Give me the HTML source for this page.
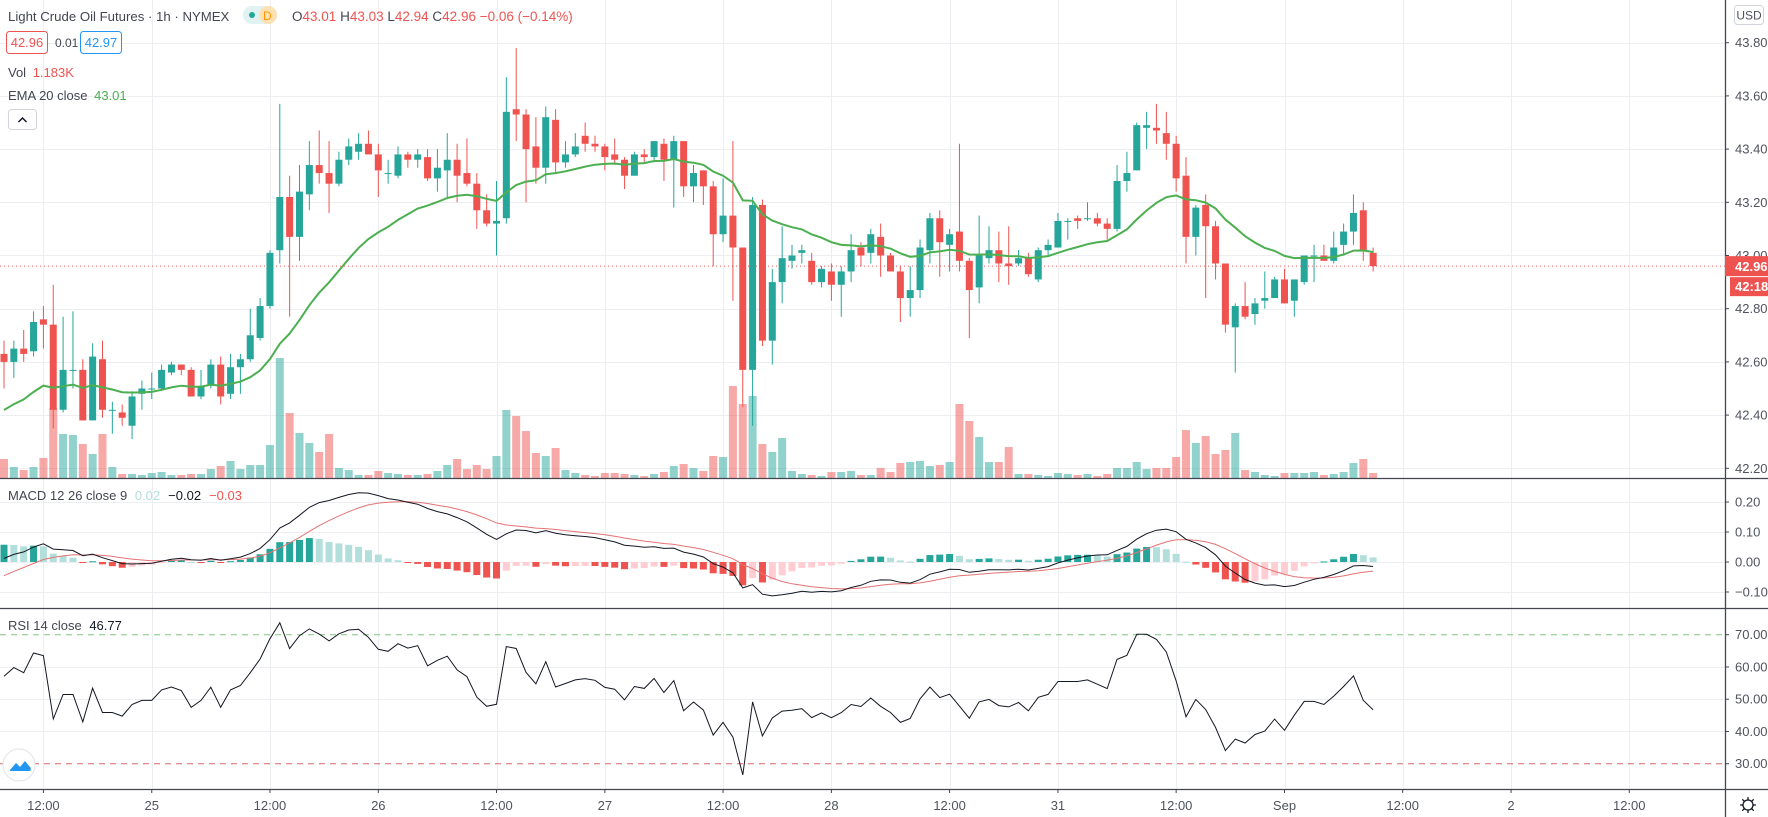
<!DOCTYPE html>
<html><head><meta charset="utf-8"><style>
html,body{margin:0;padding:0;background:#fff;}
svg{display:block;font-family:"Liberation Sans",sans-serif;}
</style></head><body>
<svg id="chart" width="1768" height="817" viewBox="0 0 1768 817" xmlns="http://www.w3.org/2000/svg">
<g id="grid"></g>
<g id="vol"></g>
<g id="candles"></g>
<g id="ema"></g>
<g id="macd"></g>
<g id="rsi"></g>
<g id="axes"></g>

<g font-size="14">
<text x="8" y="21" font-size="13.2" fill="#434651">Light Crude Oil Futures · 1h · NYMEX</text>
<rect x="243" y="6" width="34" height="18" rx="9" fill="#e0f2f1"/>
<rect x="259" y="6" width="18" height="18" rx="9" fill="#ffe0b2"/>
<circle cx="252" cy="15" r="3" fill="#26a69a"/>
<text x="263" y="20" font-size="12" fill="#ff9800">D</text>
<text x="292" y="21" font-size="13.5" fill="#434651">O<tspan fill="#ef5350">43.01</tspan> H<tspan fill="#ef5350">43.03</tspan> L<tspan fill="#ef5350">42.94</tspan> C<tspan fill="#ef5350">42.96</tspan> <tspan fill="#ef5350">−0.06 (−0.14%)</tspan></text>
<rect x="6.5" y="31.5" width="41" height="22" rx="3" fill="#fff" stroke="#ef5350"/>
<text x="27" y="47" font-size="13" text-anchor="middle" fill="#ef5350">42.96</text>
<text x="55" y="47" font-size="12" fill="#434651">0.01</text>
<rect x="80.5" y="31.5" width="41" height="22" rx="3" fill="#fff" stroke="#2196f3"/>
<text x="101" y="47" font-size="13" text-anchor="middle" fill="#2196f3">42.97</text>
<text x="8" y="77" font-size="13" fill="#434651">Vol <tspan fill="#ef5350" dx="3">1.183K</tspan></text>
<text x="8" y="100" font-size="13" fill="#434651">EMA 20 close <tspan fill="#4caf50" dx="3">43.01</tspan></text>
<rect x="8.5" y="109.5" width="28" height="20" rx="3" fill="#fff" stroke="#d1d4dc"/>
<path d="M18.5 122 L22.5 118 L26.5 122" fill="none" stroke="#131722" stroke-width="1.5"/>
<text x="8" y="500" font-size="13" fill="#434651">MACD 12 26 close 9 <tspan fill="#b2dfdb" dx="4">0.02</tspan><tspan fill="#131722" dx="8">−0.02</tspan><tspan fill="#ef5350" dx="8">−0.03</tspan></text>
<text x="8" y="630" font-size="13" fill="#434651">RSI 14 close <tspan fill="#131722" dx="4">46.77</tspan></text>
<circle cx="19" cy="765" r="16" fill="#fff" stroke="#e0e3eb"/>
<path d="M10 770 L16 763 L20 767 L25 761 L29 766 Q32 768 30 771 L10 771 Z" fill="#2196f3"/>
</g>

<g>
<rect x="1734.5" y="5.5" width="29" height="19" rx="3" fill="#fff" stroke="#d1d4dc"/>
<text x="1749" y="19.5" font-size="12" text-anchor="middle" fill="#50535e">USD</text>
<g transform="translate(1748,805)" fill="none" stroke="#131722" stroke-width="1.3">
<circle r="5"/><path d="M0 -8V-5M0 5V8M-8 0H-5M5 0H8M-5.7 -5.7L-3.5 -3.5M3.5 3.5L5.7 5.7M-5.7 5.7L-3.5 3.5M3.5 -3.5L5.7 -5.7"/>
</g>
</g>
</svg>
<script>
const opens=[42.63,42.60,42.65,42.64,42.76,42.74,42.42,42.57,42.57,42.38,42.61,42.42,42.41,42.36,42.48,42.50,42.50,42.56,42.59,42.57,42.47,42.51,42.59,42.48,42.58,42.61,42.69,42.81,43.02,43.22,43.07,43.23,43.34,43.31,43.27,
43.36,43.39,43.42,43.38,43.31,43.30,43.38,43.36,43.37,43.29,43.32,43.36,43.31,43.27,43.17,43.12,43.14,43.55,43.53,43.41,43.33,43.51,43.35,43.38,43.45,43.42,43.41,43.38,43.36,43.30,43.38,43.37,43.42,43.36,43.43,
43.26,43.32,43.26,43.08,43.15,43.03,42.57,43.19,42.68,42.90,42.98,43.01,42.98,42.90,42.94,42.89,42.94,43.03,43.01,43.07,43.00,42.94,42.84,42.87,43.02,43.14,43.04,43.09,42.98,42.88,42.99,43.02,42.97,42.97,42.99,
42.91,43.02,43.03,43.13,43.14,43.14,43.14,43.12,43.10,43.28,43.32,43.48,43.48,43.46,43.42,43.30,43.07,43.19,43.11,42.97,42.73,42.81,42.78,42.83,42.84,42.91,42.83,42.90,43.00,43.00,42.98,43.04,43.09,43.17,43.01];
const highs=[42.68,42.68,42.72,42.79,42.81,42.89,42.77,42.79,42.61,42.67,42.68,42.45,42.44,42.49,42.53,42.56,42.59,42.60,42.59,42.58,42.57,42.61,42.62,42.63,42.63,42.80,42.84,43.02,43.57,43.30,43.34,43.43,43.47,43.43,43.39,
43.44,43.46,43.47,43.42,43.36,43.41,43.39,43.40,43.40,43.40,43.46,43.42,43.44,43.31,43.23,43.28,43.67,43.78,43.55,43.52,43.56,43.55,43.43,43.46,43.50,43.45,43.42,43.44,43.37,43.39,43.40,43.43,43.44,43.45,43.43,
43.34,43.32,43.28,43.29,43.43,43.03,43.22,43.21,42.95,43.11,43.04,43.04,43.01,42.96,42.97,42.96,43.08,43.05,43.10,43.12,43.01,42.96,42.96,43.06,43.16,43.17,43.10,43.42,42.99,43.15,43.11,43.09,43.11,43.02,43.01,
43.03,43.06,43.16,43.14,43.15,43.20,43.16,43.14,43.34,43.39,43.50,43.54,43.57,43.54,43.45,43.37,43.19,43.23,43.13,42.97,42.82,42.90,42.84,42.94,42.92,42.95,42.91,43.00,43.04,43.04,43.09,43.12,43.23,43.20,43.03];
const lows=[42.50,42.54,42.60,42.62,42.65,42.35,42.41,42.50,42.38,42.38,42.39,42.33,42.36,42.31,42.42,42.46,42.49,42.55,42.55,42.47,42.46,42.50,42.44,42.46,42.48,42.60,42.68,42.80,42.97,42.77,42.98,43.17,43.27,43.16,43.26,
43.34,43.36,43.38,43.22,43.27,43.29,43.33,43.33,43.28,43.24,43.22,43.20,43.26,43.10,43.11,43.00,43.12,43.43,43.20,43.27,43.27,43.31,43.33,43.37,43.39,43.39,43.32,43.34,43.25,43.30,43.35,43.35,43.28,43.18,43.22,
43.20,43.19,42.96,43.05,42.83,42.43,42.36,42.66,42.59,42.82,42.95,42.97,42.89,42.88,42.83,42.77,42.90,42.96,42.97,42.92,42.94,42.75,42.77,42.84,42.97,42.92,42.94,42.94,42.69,42.82,42.97,42.90,42.89,42.96,42.92,
42.90,43.00,43.03,43.06,43.10,43.13,43.11,43.06,43.09,43.24,43.32,43.40,43.42,43.36,43.24,42.97,43.00,42.84,42.91,42.71,42.56,42.76,42.74,42.80,42.84,42.82,42.77,42.89,42.90,42.98,42.97,43.00,43.04,42.98,42.94];
const closes=[42.60,42.65,42.63,42.75,42.74,42.42,42.57,42.57,42.38,42.62,42.42,42.42,42.39,42.47,42.50,42.50,42.57,42.59,42.57,42.47,42.51,42.59,42.47,42.58,42.61,42.70,42.81,43.01,43.22,43.07,43.24,43.34,43.31,43.27,43.36,
43.41,43.42,43.38,43.32,43.31,43.38,43.36,43.38,43.29,43.33,43.36,43.30,43.27,43.17,43.12,43.13,43.54,43.53,43.40,43.33,43.52,43.35,43.38,43.41,43.42,43.41,43.37,43.36,43.30,43.38,43.37,43.43,43.36,43.43,43.26,
43.31,43.26,43.08,43.15,43.03,42.57,43.19,42.68,42.90,42.99,43.00,43.02,42.90,42.95,42.89,42.94,43.02,43.00,43.08,43.00,42.94,42.84,42.87,43.03,43.14,43.05,43.08,42.98,42.87,43.00,43.02,42.97,42.96,42.99,42.93,
43.02,43.04,43.13,43.13,43.13,43.14,43.12,43.10,43.28,43.31,43.49,43.49,43.47,43.42,43.29,43.07,43.18,43.11,42.97,42.74,42.81,42.77,42.82,42.84,42.91,42.82,42.91,43.00,43.00,42.98,43.03,43.09,43.16,43.02,42.96];
const volumes=[19,11,8,11,20,70,44,43,34,24,44,11,4,4,3,5,6,3,3,4,4,9,12,17,9,13,13,33,120,65,45,35,26,44,10,
8,3,3,7,5,4,3,3,4,7,13,19,9,13,9,22,68,62,47,25,22,30,8,5,3,2,5,5,4,3,2,4,6,12,14,
10,7,22,21,92,74,82,34,26,40,7,4,3,2,6,6,7,3,3,10,6,15,16,17,12,13,16,74,57,41,16,16,31,4,4,
3,2,5,4,3,4,2,4,10,10,16,9,10,10,21,48,35,42,24,28,45,8,6,3,2,5,5,5,6,3,4,6,15,19,5];
const timeTickBars=[4,15,27,38,50,61,73,84,96,107,119,130,142,153,165];
const timeTickLabels=["12:00","25","12:00","26","12:00","27","12:00","28","12:00","31","12:00","Sep","12:00","2","12:00"];
const priceTicks=[43.80,43.60,43.40,43.20,43.00,42.80,42.60,42.40,42.20];
const macdTicks=[0.20,0.10,0.00,-0.10];
const rsiTicks=[70,60,50,40,30];
const lastPrice=42.96;

const NS="http://www.w3.org/2000/svg";
const AXIS_X=1725;
const bx=i=>4+9.85*i;
const py=p=>42.7+(43.8-p)*266;
const vy=v=>478-v;
const my=v=>562-v*300;
const ry=r=>634.7+(70-r)*3.225;
const GREEN="#26a69a",RED="#ef5350";
function mk(parent,tag,attrs){const e=document.createElementNS(NS,tag);for(const k in attrs)e.setAttribute(k,attrs[k]);document.getElementById(parent).appendChild(e);return e;}

for(let k=0;k<timeTickBars.length;k++){
  const x=Math.round(bx(timeTickBars[k]))+0.5;
  const g=mk('grid','line',{x1:x,x2:x,y1:0,y2:789,stroke:'#eceef2'});
  
  
}
priceTicks.forEach(p=>{const y=Math.round(py(p))+0.5;const g=mk('grid','line',{x1:0,x2:AXIS_X,y1:y,y2:y,stroke:'#eceef2'});
  
  });
macdTicks.forEach(v=>{const y=Math.round(my(v))+0.5;const g=mk('grid','line',{x1:0,x2:AXIS_X,y1:y,y2:y,stroke:'#eceef2'});
  
  });
[60,50,40].forEach(v=>{const y=Math.round(ry(v))+0.5;const g=mk('grid','line',{x1:0,x2:AXIS_X,y1:y,y2:y,stroke:'#eceef2'});
  
  });

volumes.forEach((v,i)=>{const up=closes[i]>=opens[i];
  const r=mk('vol','rect',{x:bx(i)-4,y:vy(v),width:8,height:v,fill:up?'rgba(38,166,154,0.5)':'rgba(239,83,80,0.5)'});
  
  });

const lp=mk('candles','line',{x1:0,x2:AXIS_X,y1:py(lastPrice),y2:py(lastPrice),stroke:RED,'stroke-dasharray':'1 3','stroke-width':1});



opens.forEach((o,i)=>{const c=closes[i];const up=c>=o;const col=up?GREEN:RED;const x=bx(i);
  const w=mk('candles','line',{x1:x,x2:x,y1:py(highs[i]),y2:py(lows[i]),stroke:col,'stroke-width':1});
  
  
  const t=Math.min(py(o),py(c));const h=Math.max(1,Math.abs(py(o)-py(c)));
  const b=mk('candles','rect',{x:x-3.5,y:t,width:7,height:h,fill:col});
  
  });

let e20=42.40;const emaPts=[];
closes.forEach((c,i)=>{e20+= (c-e20)*2/21;emaPts.push(bx(i).toFixed(1)+','+py(e20).toFixed(1));});
const el=mk('ema','polyline',{points:emaPts.join(' '),fill:'none',stroke:'#4caf50','stroke-width':2});



let e12=42.45,e26=42.45,sig=-0.06,prevH=null;const mPts=[],sPts=[];
closes.forEach((c,i)=>{e12+=(c-e12)*2/13;e26+=(c-e26)*2/27;const m=e12-e26;sig+=(m-sig)*2/10;const h=m-sig;
  let col;if(h>=0)col=(prevH===null||h>prevH)?GREEN:'#b2dfdb';else col=(prevH===null||h<prevH)?RED:'#ffcdd2';
  prevH=h;const y0=my(0),y1=my(h);
  const r=mk('macd','rect',{x:bx(i)-3.5,y:Math.min(y0,y1),width:7,height:Math.max(1,Math.abs(y1-y0)),fill:col});
  
  
  mPts.push(bx(i).toFixed(1)+','+my(m).toFixed(1));sPts.push(bx(i).toFixed(1)+','+my(sig).toFixed(1));});
const sl=mk('macd','polyline',{points:sPts.join(' '),fill:'none',stroke:'#e57373','stroke-width':1});


const ml=mk('macd','polyline',{points:mPts.join(' '),fill:'none',stroke:'#131722','stroke-width':1});



[[70,'#4caf50'],[30,'#c62828']].forEach(([v,c])=>{const l=mk('rsi','line',{x1:0,x2:AXIS_X,y1:ry(v),y2:ry(v),stroke:c,'stroke-dasharray':'6 5','stroke-opacity':0.7});
  
  });
let ag=0.035,al=0.024,prev=42.63;const rPts=[];
closes.forEach((c,i)=>{const d=c-prev;prev=c;ag=(ag*13+Math.max(d,0))/14;al=(al*13+Math.max(-d,0))/14;const r=100-100/(1+ag/al);
  rPts.push(bx(i).toFixed(1)+','+ry(r).toFixed(1));});
const rl=mk('rsi','polyline',{points:rPts.join(' '),fill:'none',stroke:'#131722','stroke-width':1});



[[0,478,AXIS_X,478],[0,608,1768,608],[0,789,1768,789],[AXIS_X+0.5,0,AXIS_X+0.5,817]].forEach(a=>{
  const hz=a[1]===a[3];
  const l=mk('axes','line',{x1:a[0],y1:a[1]+(hz?0.5:0),x2:a[2],y2:a[3]+(hz?0.5:0),stroke:'#434651','stroke-width':1.3});
  
  });
const ml2=mk('axes','line',{x1:AXIS_X,y1:478.5,x2:1768,y2:478.5,stroke:'#434651','stroke-width':1.3});


function axLabel(y,txt,name){const tk=mk('axes','line',{x1:AXIS_X,x2:AXIS_X+4,y1:y,y2:y,stroke:'#434651'});
  
  
  const t=mk('axes','text',{x:AXIS_X+10,y:y+4.5,'font-size':13,fill:'#50535e'});t.textContent=txt;
  
  }
priceTicks.forEach(p=>axLabel(py(p),p.toFixed(2),'price-tick-label'));
macdTicks.forEach(v=>axLabel(my(v),(v<0?'−':'')+Math.abs(v).toFixed(2),'macd-tick-label'));
rsiTicks.forEach(v=>axLabel(ry(v),v.toFixed(2),'rsi-tick-label'));
timeTickBars.forEach((b,k)=>{const x=bx(b);const tk=mk('axes','line',{x1:x,x2:x,y1:789,y2:793,stroke:'#434651'});
  
  
  const t=mk('axes','text',{x:x,y:810,'font-size':13,fill:'#50535e','text-anchor':'middle'});t.textContent=timeTickLabels[k];
  
  });
const ly=py(lastPrice);
const tg=mk('axes','rect',{x:AXIS_X,y:ly-10,width:43,height:20,fill:RED});


const tt=mk('axes','text',{x:AXIS_X+10,y:ly+5,'font-size':13,'font-weight':'bold',fill:'#fff'});tt.textContent=lastPrice.toFixed(2);


const cg=mk('axes','rect',{x:AXIS_X+5,y:ly+11,width:38,height:19,fill:RED});


const ct=mk('axes','text',{x:AXIS_X+10,y:ly+25,'font-size':13,'font-weight':'bold',fill:'#fff'});ct.textContent='42:18';


</script>
</body></html>
